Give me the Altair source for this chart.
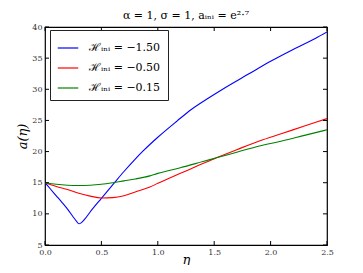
import altair as alt
import pandas as pd

# --- data ---
eta_blue = [0.0, 0.05, 0.1, 0.15, 0.2, 0.25, 0.28, 0.3, 0.32, 0.35, 0.4, 0.5, 0.62, 0.7, 0.8, 0.87,
            1.0, 1.17, 1.3, 1.45, 1.6, 1.8, 2.0, 2.2, 2.4, 2.5]
a_blue = [15.0, 13.95, 12.9, 11.85, 10.75, 9.5, 8.8, 8.4, 8.55, 9.1, 10.3, 12.5, 15.1, 16.8, 18.8, 20.1,
          22.3, 24.9, 26.8, 28.6, 30.3, 32.4, 34.5, 36.4, 38.2, 39.2]

eta_red = [0.0, 0.1, 0.2, 0.3, 0.4, 0.5, 0.6, 0.7, 0.8, 0.93, 1.0, 1.1, 1.2, 1.3, 1.4,
           1.52, 1.7, 1.9, 2.1, 2.3, 2.5]
a_red = [15.0, 14.4, 13.9, 13.3, 12.85, 12.55, 12.6, 12.9, 13.5, 14.3, 14.9, 15.7, 16.5,
         17.3, 18.1, 19.0, 20.3, 21.7, 22.9, 24.1, 25.3]

eta_green = [0.0, 0.1, 0.2, 0.3, 0.4, 0.5, 0.6, 0.7, 0.8, 0.93, 1.0, 1.2, 1.4, 1.52, 1.7,
             1.9, 2.1, 2.3, 2.5]
a_green = [15.0, 14.75, 14.6, 14.55, 14.6, 14.75, 15.0, 15.3, 15.6, 16.1, 16.5, 17.4, 18.4,
           19.0, 19.9, 20.9, 21.7, 22.6, 23.5]

series_labels = ["ℋᵢₙᵢ = −1.50", "ℋᵢₙᵢ = −0.50", "ℋᵢₙᵢ = −0.15"]
series_colors = ["#0000ff", "#ff0000", "#008000"]

x_ticks = [0.0, 0.5, 1.0, 1.5, 2.0, 2.5]
y_ticks = [5, 10, 15, 20, 25, 30, 35, 40]

title_text = "α = 1,  σ = 1,  aᵢₙᵢ = e²·⁷"

rows = []
for lab, xs, ys in zip(series_labels, [eta_blue, eta_red, eta_green], [a_blue, a_red, a_green]):
    for i, (x, y) in enumerate(zip(xs, ys)):
        rows.append({"series": lab, "eta": x, "a": y, "order": i})
df = pd.DataFrame(rows)

W, H = 282, 218
FONT = "DejaVu Serif"
TICK = 4

xscale = alt.Scale(domain=[0, 2.5], nice=False, zero=False)
yscale = alt.Scale(domain=[5, 40], nice=False, zero=False)

xaxis = alt.Axis(values=x_ticks, format=".1f", ticks=False, domain=False, grid=False,
                 labelFont=FONT, labelFontSize=8, labelColor="#333333", labelPadding=3,
                 labelFlush=False, labelOverlap=False,
                 title="η", titleFont=FONT, titleFontSize=13, titleFontStyle="italic",
                 titleFontWeight="normal", titleColor="black",
                 titleBaseline="alphabetic", titleY=18)
yaxis = alt.Axis(values=y_ticks, format="d", ticks=False, domain=False, grid=False,
                 labelFont=FONT, labelFontSize=8, labelColor="#333333", labelPadding=3,
                 labelFlush=False, labelOverlap=False,
                 title="a(η)", titleFont=FONT, titleFontSize=13, titleFontStyle="italic",
                 titleFontWeight="normal", titleColor="black", titlePadding=2)

lines = alt.Chart(df).mark_line(strokeWidth=1.1, clip=True, interpolate="monotone").encode(
    x=alt.X("eta:Q", scale=xscale, axis=xaxis),
    y=alt.Y("a:Q", scale=yscale, axis=yaxis),
    color=alt.Color("series:N", sort=series_labels,
                    scale=alt.Scale(domain=series_labels, range=series_colors),
                    legend=alt.Legend(title=None, orient="none", legendX=5, legendY=3,
                                      symbolType="stroke", symbolSize=420, symbolStrokeWidth=1.2,
                                      labelFont=FONT, labelFontSize=11, labelColor="black",
                                      labelOffset=10, rowPadding=4, padding=7,
                                      strokeColor="#222222", fillColor="white")),
    order="order:Q",
)

xt = pd.DataFrame({"t": x_ticks})
yt = pd.DataFrame({"t": y_ticks})

bottom_ticks = alt.Chart(xt).mark_rule(color="black", strokeWidth=1).encode(
    x=alt.X("t:Q", scale=xscale, axis=xaxis), y=alt.value(H), y2=alt.value(H - TICK))
top_ticks = alt.Chart(xt).mark_rule(color="black", strokeWidth=1).encode(
    x=alt.X("t:Q", scale=xscale, axis=xaxis), y=alt.value(0), y2=alt.value(TICK))
left_ticks = alt.Chart(yt).mark_rule(color="black", strokeWidth=1).encode(
    y=alt.Y("t:Q", scale=yscale, axis=yaxis), x=alt.value(0), x2=alt.value(TICK))
right_ticks = alt.Chart(yt).mark_rule(color="black", strokeWidth=1).encode(
    y=alt.Y("t:Q", scale=yscale, axis=yaxis), x=alt.value(W), x2=alt.value(W - TICK))

chart = alt.layer(lines, bottom_ticks, top_ticks, left_ticks, right_ticks).properties(
    width=W, height=H,
    title=alt.Title(title_text, font=FONT, fontSize=11, fontWeight="normal", color="black",
                    offset=2),
    autosize=alt.AutoSizeParams(type="none"),
    padding={"left": 37, "top": 19, "right": 12, "bottom": 20},
).configure_view(stroke="black", strokeWidth=1.2)

chart.save("out.html", embed_options={"renderer": "svg", "actions": False})
